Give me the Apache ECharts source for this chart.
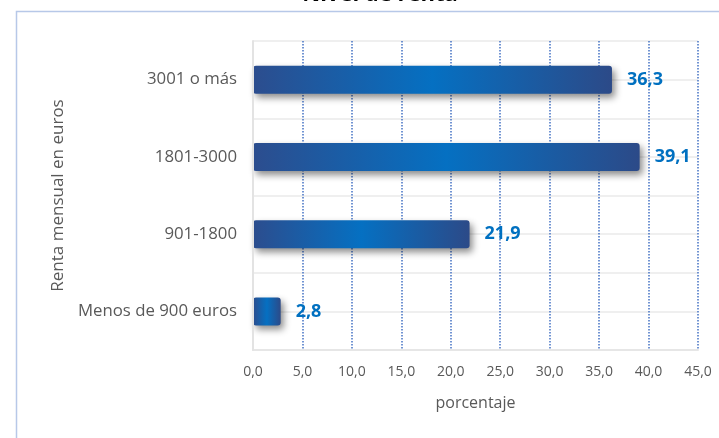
<!DOCTYPE html>
<html>
<head>
<meta charset="utf-8">
<style>
  html, body { margin: 0; padding: 0; background: #ffffff; }
  #chart { width: 719px; height: 438px; }
</style>
<script src="https://cdn.jsdelivr.net/npm/echarts@6/dist/echarts.min.js"></script>
</head>
<body>
<div id="chart"></div>
<script>
// Income brackets (bottom to top) and share of respondents (%)
const categories = ['Menos de 900 euros', '901-1800', '1801-3000', '3001 o más'];
const values = [2.8, 21.9, 39.1, 36.3];
const xTicks = [0, 5, 10, 15, 20, 25, 30, 35, 40, 45];

const titleText = 'Nivel de renta';
const xName = 'porcentaje';
const yName = 'Renta mensual en euros';

const FONT = '"Open Sans", Lato, sans-serif';
const GREY_TEXT = '#595959';

const chart = echarts.init(document.getElementById('chart'), null, { renderer: 'canvas' });

const barGradient = new echarts.graphic.LinearGradient(0, 0, 1, 0, [
  { offset: 0, color: '#2c4d8e' },
  { offset: 0.5, color: '#0570c2' },
  { offset: 1, color: '#2c4a88' }
]);

chart.setOption({
  animation: false,
  backgroundColor: '#ffffff',
  textStyle: { fontFamily: FONT },
  graphic: [
    {
      type: 'rect',
      shape: { x: 16.5, y: 11.5, width: 900, height: 600 },
      style: { fill: 'none', stroke: '#b7c8e8', lineWidth: 1.5 },
      silent: true,
      z: 0
    },
    {
      type: 'text',
      x: 380,
      y: 6,
      style: {
        text: titleText,
        font: 'bold 22px ' + FONT,
        fill: '#000000',
        align: 'center',
        verticalAlign: 'bottom'
      },
      silent: true
    }
  ],
  grid: { left: 253, right: 21, top: 41, bottom: 88, containLabel: false },
  xAxis: {
    type: 'value',
    min: xTicks[0],
    max: xTicks[xTicks.length - 1],
    interval: 5,
    name: xName,
    nameLocation: 'middle',
    nameGap: 45,
    nameTextStyle: { color: GREY_TEXT, fontSize: 16, fontFamily: FONT },
    axisLine: { show: true, lineStyle: { color: '#e6e6e6', width: 2 } },
    axisTick: { show: false },
    axisLabel: {
      color: GREY_TEXT,
      fontSize: 14,
      margin: 15,
      formatter: v => v.toFixed(1).replace('.', ',')
    },
    splitLine: { show: true, lineStyle: { color: '#4472c4', type: [1.5, 1.5], width: 1.5 } }
  },
  yAxis: [
    {
      type: 'category',
      data: categories,
      name: yName,
      nameLocation: 'middle',
      nameGap: 181,
      nameRotate: 90,
      nameTextStyle: { color: GREY_TEXT, fontSize: 17, fontFamily: FONT },
      axisLine: { show: true, lineStyle: { color: '#e3e3e3', width: 2 } },
      axisTick: { show: false },
      axisLabel: { color: GREY_TEXT, fontSize: 16.8, margin: 16 },
      splitLine: { show: false },
      z: 5
    },
    {
      // faint horizontal guides at band edges and band centres
      type: 'value',
      min: 0,
      max: 4,
      interval: 0.5,
      position: 'left',
      axisLine: { show: false },
      axisTick: { show: false },
      axisLabel: { show: false },
      splitLine: { show: true, lineStyle: { color: '#efefef', width: 2 } }
    }
  ],
  series: [
    {
      type: 'bar',
      yAxisIndex: 0,
      data: values,
      barWidth: 28,
      itemStyle: {
        color: barGradient,
        borderRadius: 3,
        shadowColor: 'rgba(0,0,0,0.45)',
        shadowBlur: 7,
        shadowOffsetX: 3,
        shadowOffsetY: 4
      },
      label: {
        show: true,
        position: 'right',
        distance: 15,
        color: '#0070c0',
        fontWeight: 'bold',
        fontSize: 18,
        fontFamily: FONT,
        formatter: p => p.value.toFixed(1).replace('.', ',')
      },
      z: 3
    }
  ]
});
</script>
</body>
</html>
